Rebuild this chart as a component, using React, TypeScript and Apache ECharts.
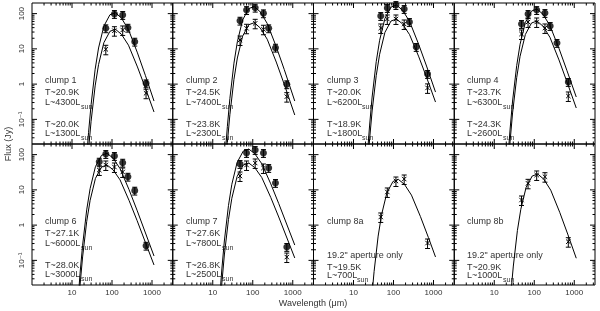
import React, { useEffect, useRef } from 'react';
import * as echarts from 'echarts';

// ---------------- data ----------------
// photometric bands (µm), shared by all clumps
const WAVE = [48, 70, 115, 185, 250, 370, 710];

const PANEL_NAMES = ['clump 1', 'clump 2', 'clump 3', 'clump 4', 'clump 6', 'clump 7', 'clump 8a', 'clump 8b'];
const T_HI = ['20.9', '24.5', '20.0', '23.7', '27.1', '27.6', '', ''];
const L_HI = ['4300', '7400', '6200', '6300', '6000', '7800', '', ''];
const T_LO = ['20.0', '23.8', '18.9', '24.3', '28.0', '26.8', '19.5', '20.9'];
const L_LO = ['1300', '2300', '1800', '2600', '3000', '2500', '700', '1000'];
const APERTURE_NOTE = '19.2" aperture only';
const SUN = 'sun';

// fluxes (Jy): filled = large aperture, open = small aperture
const FILLED_1 = [null, 38.3, 97.5, 91.4, 39.8, 16.0, 1.05];
const OPEN_1 = [null, 9.7, 32.7, 34.3, null, null, 0.55];
const FILLED_2 = [63, 126, 147, 102, 38.3, 10.8, 0.99];
const OPEN_2 = [17.8, 38.3, 53, 35.9, null, null, 0.44];
const FILLED_3 = [85.5, 144, 175, 135, 57.8, 11.3, 1.94];
const OPEN_3 = [39.1, 70.3, 70.3, 50.7, null, null, 0.78];
const FILLED_4 = [50.7, 97.5, 126, 104, 44.5, 14.7, 1.15];
const OPEN_4 = [26.4, 57.8, 57.8, 39.1, null, null, 0.46];
const FILLED_6 = [63, 104, 91.4, 59, 23.6, 9.5, 0.26];
const OPEN_6 = [36.6, 50.7, 44.5, 32.1, null, null, null];
const FILLED_7 = [54.2, 111, 135, 111, 41.7, 15.7, 0.24];
const OPEN_7 = [24.7, 50.7, 57.8, 41.7, null, null, 0.124];
const OPEN_8A = [1.7, 8.7, 17.8, 20.3, null, null, 0.31];
const OPEN_8B = [5.15, 15.3, 26.4, 23.6, null, null, 0.338];

// relative uncertainties of the plotted points
const ERR_FILLED = 0.25;
const ERR_OPEN = 0.3;

// fitted greybody curves
const FIT_WAVE_1 = [22.1, 25.9, 30.0, 37.9, 46.1, 62.6, 88.9, 122, 172, 258, 433, 686, 1122];
const FIT_HI_1 = [0.0037, 0.042, 0.26, 2.63, 10.6, 44.2, 93.0, 106, 74.8, 35.1, 7.7, 1.74, 0.331];
const FIT_LO_1 = [0.0013, 0.014, 0.088, 0.89, 3.58, 15.0, 31.5, 35.9, 25.9, 12.7, 3.07, 0.763, 0.162];
const FIT_WAVE_2 = [19.7, 23.2, 26.8, 33.9, 41.2, 55.9, 79.4, 109, 154, 230, 387, 613, 1122];
const FIT_HI_2 = [0.0056, 0.063, 0.39, 3.94, 15.9, 66.3, 139, 159, 112, 52.5, 11.5, 2.59, 0.331];
const FIT_LO_2 = [0.0019, 0.022, 0.136, 1.37, 5.51, 23.0, 48.4, 55.2, 39.2, 18.7, 4.23, 0.986, 0.133];
const FIT_WAVE_3 = [21.5, 25.3, 29.2, 37.0, 45.0, 61.0, 86.7, 119, 168, 252, 422, 669, 1122];
const FIT_HI_3 = [0.0062, 0.069, 0.43, 4.33, 17.5, 73.0, 153, 175, 125, 60.0, 13.8, 3.26, 0.595];
const FIT_LO_3 = [0.0025, 0.028, 0.173, 1.74, 7.02, 29.3, 61.7, 70.3, 51.0, 25.3, 6.22, 1.57, 0.31];
const FIT_WAVE_4 = [21.2, 24.9, 28.7, 36.4, 44.2, 60.0, 85.3, 117, 165, 247, 415, 658, 1122];
const FIT_HI_4 = [0.0048, 0.053, 0.331, 3.34, 13.5, 56.3, 118, 135, 96.0, 45.6, 10.3, 2.40, 0.431];
const FIT_LO_4 = [0.0022, 0.024, 0.152, 1.53, 6.16, 25.7, 54.1, 61.7, 44.1, 21.2, 4.86, 1.15, 0.21];
const FIT_WAVE_6 = [13.6, 15.9, 18.4, 23.3, 28.4, 38.5, 54.7, 75, 106, 159, 266, 422, 1122];
const FIT_HI_6 = [0.0038, 0.043, 0.268, 2.70, 10.9, 45.5, 95.6, 109, 79.6, 40.1, 10.2, 2.65, 0.133];
const FIT_LO_6 = [0.0018, 0.020, 0.125, 1.26, 5.06, 21.1, 44.5, 50.7, 37.3, 19.2, 5.04, 1.36, 0.074];
const FIT_WAVE_7 = [14.4, 16.9, 19.5, 24.7, 30.0, 40.7, 57.9, 79.4, 112, 168, 282, 446, 1122];
const FIT_HI_7 = [0.0051, 0.057, 0.354, 3.57, 14.4, 60.0, 126, 144, 106.5, 55.3, 14.8, 4.09, 0.272];
const FIT_LO_7 = [0.002, 0.023, 0.142, 1.43, 5.77, 24.1, 50.7, 57.8, 42.9, 22.4, 6.08, 1.70, 0.117];
const FIT_WAVE_8A = [24.1, 28.3, 32.7, 41.3, 50.3, 68.2, 96.9, 133, 188, 281, 472, 748, 1122];
const FIT_8A = [0.0007, 0.0078, 0.048, 0.488, 1.97, 8.21, 17.3, 19.7, 14.3, 7.09, 1.74, 0.441, 0.125];
const FIT_WAVE_8B = [22.1, 25.9, 30.0, 37.9, 46.1, 62.6, 88.9, 122, 172, 258, 433, 686, 1122];
const FIT_8B = [0.001, 0.011, 0.069, 0.70, 2.81, 11.8, 24.7, 28.2, 20.2, 9.81, 2.31, 0.557, 0.115];

// axes
const X_MIN = 1;
const X_MAX = 3300;
const Y_MIN = 0.02;
const Y_MAX = 200;
const X_MAJOR = [10, 100, 1000];
const X_LABELS = ['10', '100', '1000'];
const X_MINOR = [2, 3, 4, 5, 6, 7, 8, 9, 20, 30, 40, 50, 60, 70, 80, 90, 200, 300, 400, 500, 600, 700, 800, 900, 2000, 3000];
const Y_MAJOR = [0.1, 1, 10, 100];
const Y_LABELS = ['10\u207B\u00B9', '1', '10', '100'];
const Y_MINOR = [0.03, 0.04, 0.05, 0.06, 0.07, 0.08, 0.09, 0.2, 0.3, 0.4, 0.5, 0.6, 0.7, 0.8, 0.9,
  2, 3, 4, 5, 6, 7, 8, 9, 20, 30, 40, 50, 60, 70, 80, 90];
const X_TITLE = 'Wavelength (\u03BCm)';
const Y_TITLE = 'Flux (Jy)';

// ---------------- panel tables built from the arrays ----------------
const FILLED = [FILLED_1, FILLED_2, FILLED_3, FILLED_4, FILLED_6, FILLED_7, null, null];
const OPEN = [OPEN_1, OPEN_2, OPEN_3, OPEN_4, OPEN_6, OPEN_7, OPEN_8A, OPEN_8B];
const FIT_WAVES = [FIT_WAVE_1, FIT_WAVE_2, FIT_WAVE_3, FIT_WAVE_4, FIT_WAVE_6, FIT_WAVE_7, FIT_WAVE_8A, FIT_WAVE_8B];
const FITS_HI = [FIT_HI_1, FIT_HI_2, FIT_HI_3, FIT_HI_4, FIT_HI_6, FIT_HI_7, null, null];
const FITS_LO = [FIT_LO_1, FIT_LO_2, FIT_LO_3, FIT_LO_4, FIT_LO_6, FIT_LO_7, FIT_8A, FIT_8B];

// ---------------- layout / style ----------------
const GRID_LEFT = 32;
const GRID_W = 140.75;
const GRID_H = 141;
const ROW_TOPS = [3, 144];
const FONT = 'Liberation Sans, DejaVu Sans, sans-serif';
const TEXT_SIZE = 9;
const SUB_SIZE = 7;
const INK = '#000';
const TEXT = '#333';

const sameLog = (a: number, b: number) => Math.abs(Math.log10(a) - Math.log10(b)) < 1e-6;

let measureCtx: CanvasRenderingContext2D | null = null;
function textWidth(t: string, size: number) {
  if (!measureCtx) measureCtx = document.createElement('canvas').getContext('2d');
  if (!measureCtx) return t.length * size * 0.55;
  measureCtx.font = `${size}px "Liberation Sans", "DejaVu Sans", sans-serif`;
  return measureCtx.measureText(t).width;
}

function xFmt(v: number) {
  const i = X_MAJOR.findIndex((m) => sameLog(v, m));
  return i >= 0 ? X_LABELS[i] : '';
}
function yFmt(v: number) {
  const i = Y_MAJOR.findIndex((m) => sameLog(v, m));
  return i >= 0 ? Y_LABELS[i] : '';
}

function tickRender(params: any, api: any) {
  const cs = params.coordSys;
  const kind = api.value(2);
  const major = api.value(3);
  const len = major ? 5 : 2.5;
  const style = { stroke: INK, lineWidth: 1 };
  if (kind === 0) {
    const px = api.coord([api.value(0), 1])[0];
    const b = cs.y + cs.height;
    return {
      type: 'group',
      children: [
        { type: 'line', shape: { x1: px, y1: b, x2: px, y2: b - len }, style },
        { type: 'line', shape: { x1: px, y1: cs.y, x2: px, y2: cs.y + len }, style },
      ],
    };
  }
  const py = api.coord([1, api.value(1)])[1];
  const r = cs.x + cs.width;
  return {
    type: 'group',
    children: [
      { type: 'line', shape: { x1: cs.x, y1: py, x2: cs.x + len, y2: py }, style },
      { type: 'line', shape: { x1: r, y1: py, x2: r - len, y2: py }, style },
    ],
  };
}

function markRender(open: boolean) {
  return (params: any, api: any) => {
    const c = api.coord([api.value(0), api.value(1)]);
    const lo = api.coord([api.value(0), api.value(2)]);
    const hi = api.coord([api.value(0), api.value(3)]);
    const style = { stroke: INK, lineWidth: 1, fill: null };
    const w = 2.5;
    const children: any[] = [
      { type: 'line', shape: { x1: c[0], y1: hi[1], x2: c[0], y2: lo[1] }, style },
      { type: 'line', shape: { x1: c[0] - w, y1: hi[1], x2: c[0] + w, y2: hi[1] }, style },
      { type: 'line', shape: { x1: c[0] - w, y1: lo[1], x2: c[0] + w, y2: lo[1] }, style },
    ];
    if (open) {
      const s = 2.2;
      children.push(
        { type: 'line', shape: { x1: c[0] - s, y1: c[1] - s, x2: c[0] + s, y2: c[1] + s }, style },
        { type: 'line', shape: { x1: c[0] - s, y1: c[1] + s, x2: c[0] + s, y2: c[1] - s }, style },
      );
    }
    return { type: 'group', children };
  };
}

function pointsWithErr(vals: (number | null)[], err: number) {
  const out: number[][] = [];
  vals.forEach((f, k) => {
    if (f != null) out.push([WAVE[k], f, f * (1 - err), f * (1 + err)]);
  });
  return out;
}

function buildOption() {
  const grid: any[] = [];
  const xAxis: any[] = [];
  const yAxis: any[] = [];
  const series: any[] = [];
  const graphic: any[] = [];

  const tickData = [
    ...X_MAJOR.map((v) => [v, 1, 0, 1]),
    ...X_MINOR.map((v) => [v, 1, 0, 0]),
    ...Y_MAJOR.map((v) => [1, v, 1, 1]),
    ...Y_MINOR.map((v) => [1, v, 1, 0]),
  ];

  const addText = (x: number, y: number, text: string, size = TEXT_SIZE) => {
    graphic.push({
      type: 'text', x: Math.round(x), y, silent: true,
      style: { text, fontSize: size, fontFamily: FONT, fill: TEXT, align: 'left', verticalAlign: 'middle' },
    });
  };
  const addLum = (x: number, y: number, l: string) => {
    const main = 'L~' + l + 'L';
    addText(x, y, main);
    addText(x + textWidth(main, TEXT_SIZE) + 0.5, y + 4.5, SUN, SUB_SIZE);
  };

  for (let i = 0; i < 8; i++) {
    const col = i % 4;
    const row = i < 4 ? 0 : 1;
    const left = GRID_LEFT + col * GRID_W;
    const top = ROW_TOPS[row];
    grid.push({
      left, top, width: GRID_W, height: GRID_H,
      show: true, borderColor: INK, borderWidth: 1, backgroundColor: 'rgba(0,0,0,0)',
      containLabel: false, outerBoundsMode: 'none',
    });
    xAxis.push({
      type: 'log', logBase: 10, gridIndex: i, min: X_MIN, max: X_MAX,
      axisLine: { show: false }, axisTick: { show: false }, splitLine: { show: false },
      axisLabel: {
        show: row === 1, fontSize: 8, color: TEXT, fontFamily: FONT, margin: 3,
        formatter: xFmt, hideOverlap: false,
      },
    });
    yAxis.push({
      type: 'log', logBase: 10, gridIndex: i, min: Y_MIN, max: Y_MAX,
      axisLine: { show: false }, axisTick: { show: false }, splitLine: { show: false },
      axisLabel: {
        show: col === 0, fontSize: 8, color: TEXT, fontFamily: FONT, margin: 7, rotate: 90,
        formatter: yFmt, hideOverlap: false,
      },
    });

    const fw = FIT_WAVES[i];
    const hiFit = FITS_HI[i];
    const loFit = FITS_LO[i];
    if (hiFit) {
      series.push({
        type: 'line', xAxisIndex: i, yAxisIndex: i, showSymbol: false, symbol: 'none', clip: true,
        lineStyle: { color: INK, width: 1 }, data: fw.map((w, k) => [w, hiFit[k]]), z: 2, silent: true,
      });
    }
    if (loFit) {
      series.push({
        type: 'line', xAxisIndex: i, yAxisIndex: i, showSymbol: false, symbol: 'none', clip: true,
        lineStyle: { color: INK, width: 1 }, data: fw.map((w, k) => [w, loFit[k]]), z: 2, silent: true,
      });
    }
    const filled = FILLED[i];
    if (filled) {
      const pts = pointsWithErr(filled, ERR_FILLED);
      series.push({
        type: 'custom', xAxisIndex: i, yAxisIndex: i, renderItem: markRender(false),
        data: pts, clip: false, silent: true, z: 3, encode: { x: 0, y: 1 },
      });
      series.push({
        type: 'scatter', xAxisIndex: i, yAxisIndex: i, symbol: 'circle', symbolSize: 7,
        itemStyle: { color: INK }, data: pts.map((p) => [p[0], p[1]]), z: 4, silent: true,
      });
    }
    const open = OPEN[i];
    if (open) {
      series.push({
        type: 'custom', xAxisIndex: i, yAxisIndex: i, renderItem: markRender(true),
        data: pointsWithErr(open, ERR_OPEN), clip: false, silent: true, z: 3, encode: { x: 0, y: 1 },
      });
    }
    series.push({
      type: 'custom', xAxisIndex: i, yAxisIndex: i, renderItem: tickRender,
      data: tickData, clip: false, silent: true, z: 5, encode: { x: 0, y: 1 },
    });

    // panel annotations
    const tx = left + 13;
    addText(tx, top + 76.5, PANEL_NAMES[i]);
    if (T_HI[i]) {
      addText(tx, top + 88.7, 'T~' + T_HI[i] + 'K');
      addLum(tx, top + 98.5, L_HI[i]);
      addText(tx, top + 121, 'T~' + T_LO[i] + 'K');
      addLum(tx, top + 130, L_LO[i]);
    } else {
      addText(tx, top + 111, APERTURE_NOTE);
      addText(tx, top + 122.5, 'T~' + T_LO[i] + 'K');
      addLum(tx, top + 131, L_LO[i]);
    }
  }

  graphic.push({
    type: 'text', x: 313, y: 302.5, silent: true,
    style: { text: X_TITLE, fontSize: 9, fontFamily: FONT, fill: TEXT, align: 'center', verticalAlign: 'middle' },
  });
  graphic.push({
    type: 'text', x: 8, y: 144, rotation: Math.PI / 2, silent: true,
    style: { text: Y_TITLE, fontSize: 9, fontFamily: FONT, fill: TEXT, align: 'center', verticalAlign: 'middle' },
  });

  return {
    animation: false,
    backgroundColor: '#fff',
    grid, xAxis, yAxis, series, graphic,
  };
}

export default function App() {
  const ref = useRef<HTMLDivElement>(null);
  useEffect(() => {
    if (!ref.current) return;
    const chart = echarts.init(ref.current, null, { renderer: 'svg' });
    chart.setOption(buildOption() as any);
    return () => chart.dispose();
  }, []);
  return (
    <div
      ref={ref}
      style={{
        position: 'absolute', left: 0, top: 0, width: 600, height: 311, background: '#fff',
        willChange: 'transform', opacity: 0.999,
      }}
    />
  );
}
